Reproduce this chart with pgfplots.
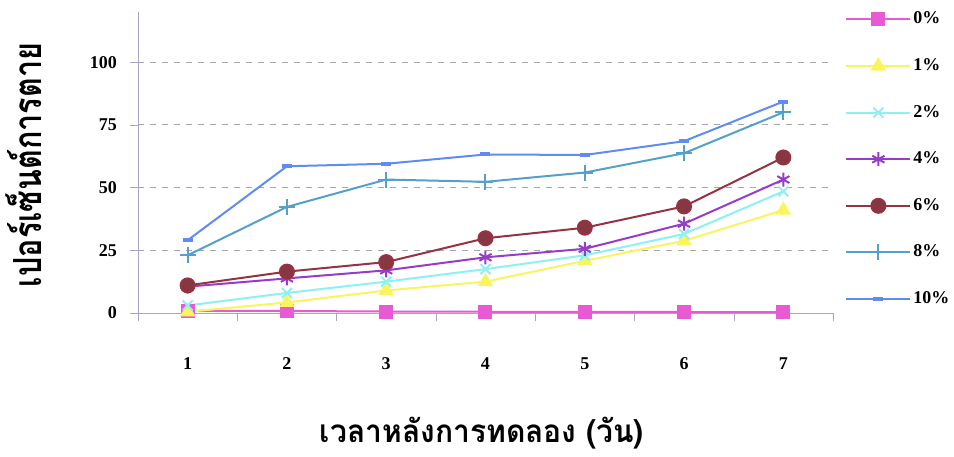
\documentclass[border=0pt]{standalone}
\usepackage{fontspec}
\setmainfont{Liberation Serif}
\newfontfamily\thaifont[Script=Thai]{Loma}
\usepackage{graphicx}
\usepackage{pgfplots}
\pgfplotsset{compat=1.18}
\definecolor{c0}{RGB}{232,90,212}
\definecolor{c1}{RGB}{250,245,95}
\definecolor{c2}{RGB}{140,240,245}
\definecolor{c4}{RGB}{150,60,200}
\definecolor{c6}{RGB}{150,50,65}
\definecolor{c6f}{RGB}{135,55,65}
\definecolor{c8}{RGB}{85,160,200}
\definecolor{c10}{RGB}{95,140,240}
\definecolor{axc}{RGB}{165,165,200}
\begin{document}
\begin{tikzpicture}
\useasboundingbox (0,0) rectangle (477pt,-228pt);
\begin{axis}[
  at={(69pt,-156.5pt)}, anchor=south west,
  scale only axis, width=347.5pt, height=150.5pt,
  xmin=0.5, xmax=7.5, ymin=0, ymax=120,
  axis lines=left, axis line style={-, color=axc},
  xtick={0.5,1.5,...,7.5}, xticklabels={},
  extra x ticks={1,2,3,4,5,6,7},
  extra x tick style={major tick length=0pt, xticklabel style={yshift=-19pt}},
  ytick={0,25,50,75,100},
  ymajorgrids, grid style={dashed, gray!70},
  tick align=outside, major tick length=4pt, tick style={color=axc},
  /pgf/number format/assume math mode=true,
  ticklabel style={font=\bfseries\fontsize{9}{10}\selectfont},
  yticklabel style={xshift=-3pt},
  legend style={at={(1,1)}, anchor=north west, xshift=3pt, yshift=3.5pt,
    draw=none, fill=none, font=\bfseries\fontsize{9}{10}\selectfont,
    row sep=13.3pt, nodes={inner sep=1pt, minimum height=10pt}},
  legend cell align=left,
  legend image code/.code={\draw[mark repeat=2,mark phase=2,#1] plot coordinates {(0pt,0pt) (16pt,0pt) (32pt,0pt)};},
]
\addplot[color=c0, line width=1pt, mark=square*, mark size=3pt, mark options={fill=c0}] coordinates {(1,0.8)(2,0.8)(3,0.6)(4,0.5)(5,0.5)(6,0.4)(7,0.4)};
\addlegendentry{0\%}
\addplot[color=c1, line width=1pt, mark=triangle*, mark size=3.5pt, mark options={fill=c1}] coordinates {(1,0.5)(2,4.2)(3,9)(4,12.5)(5,20.8)(6,28.8)(7,41)};
\addlegendentry{1\%}
\addplot[color=c2, line width=1pt, mark=x, mark size=3.5pt] coordinates {(1,3)(2,8)(3,12.5)(4,17.5)(5,23)(6,31.5)(7,48.5)};
\addlegendentry{2\%}
\addplot[color=c4, line width=1pt, mark=asterisk, mark size=3.5pt] coordinates {(1,10.5)(2,13.8)(3,17)(4,22.2)(5,25.6)(6,35.6)(7,53.2)};
\addlegendentry{4\%}
\addplot[color=c6, line width=1pt, mark=*, mark size=3.5pt, mark options={fill=c6f}] coordinates {(1,11)(2,16.5)(3,20.3)(4,29.8)(5,34)(6,42.5)(7,62)};
\addlegendentry{6\%}
\addplot[color=c8, line width=1pt, mark=+, mark size=4pt] coordinates {(1,23)(2,42.3)(3,53.2)(4,52.3)(5,56)(6,63.7)(7,80)};
\addlegendentry{8\%}
\addplot[color=c10, line width=1pt, mark=-, mark size=2.5pt, mark options={line width=2pt}] coordinates {(1,29)(2,58.5)(3,59.5)(4,63.2)(5,63)(6,68.5)(7,84.3)};
\addlegendentry{10\%}
\end{axis}
\node[rotate=90, inner sep=0pt] at (12pt,-82.5pt) {\resizebox*{122pt}{18pt}{\thaifont\bfseries เปอร์เซ็นต์การตาย}};
\node[inner sep=0pt] at (241pt,-216.5pt) {\resizebox*{162pt}{16pt}{\thaifont\bfseries เวลาหลังการทดลอง (วัน)}};
\end{tikzpicture}
\end{document}
